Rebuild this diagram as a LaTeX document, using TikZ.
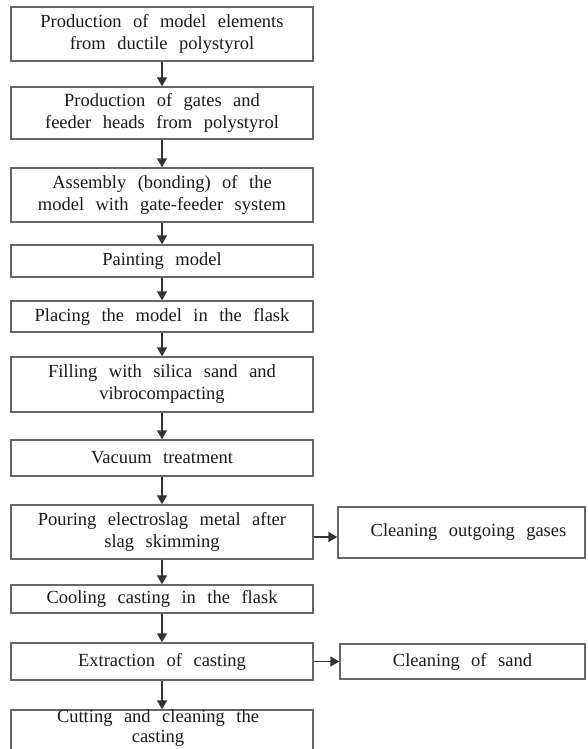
\documentclass[tikz,border=0pt]{standalone}
\usepackage{fontspec}
\setmainfont{Liberation Serif}
\usetikzlibrary{arrows.meta}
\definecolor{boxgray}{HTML}{666666}
\definecolor{arrgray}{HTML}{333333}
\definecolor{txt}{HTML}{1A1A1A}
\newcommand\myboxfont{\fontsize{18.5}{22}\selectfont\spaceskip=11.5pt\relax}
\newcommand\mylastfont{\fontsize{18.5}{20}\selectfont\spaceskip=11.5pt\relax}
\begin{document}
\begin{tikzpicture}[x=1pt,y=-1pt,
  lbl/.style={text=txt, align=center, inner sep=0pt, font=\myboxfont},
  box/.style={lbl, draw=boxgray, line width=1.4pt, fill=white, minimum width=302pt},
  sidebox/.style={lbl, draw=boxgray, line width=1.4pt, fill=white},
  arr/.style={draw=arrgray, line width=1.4pt, -{Triangle[width=10pt,length=9pt]}}]
\useasboundingbox (0,0) rectangle (587,749);
\clip (0,0) rectangle (587,749);
\fill[white] (0,0) rectangle (587,749);
\node[box, minimum height=54pt] (n1) at (162,34) {Production of model elements\\from ductile polystyrol};
\node[box, minimum height=52pt] (n2) at (162,113) {Production of gates and\\feeder heads from polystyrol};
\node[box, minimum height=54pt] (n3) at (162,195) {Assembly (bonding) of the\\model with gate-feeder system};
\node[box, minimum height=32pt] (n4) at (162,261) {Painting model};
\node[box, minimum height=31pt] (n5) at (162,316.5) {Placing the model in the flask};
\node[box, minimum height=55pt] (n6) at (162,384.5) {Filling with silica sand and\\vibrocompacting};
\node[box, minimum height=36pt] (n7) at (162,458) {Vacuum treatment};
\node[box, minimum height=54pt] (n8) at (162,532) {Pouring electroslag metal after\\slag skimming};
\node[box, minimum height=28pt] (n9) at (162,599) {Cooling casting in the flask};
\node[box, minimum height=37pt] (n10) at (162,661.5) {Extraction of casting};
\node[box, minimum height=70pt] (n11) at (162,745) {};
\node[lbl, font=\mylastfont] (t11) at (158,728) {Cutting and cleaning the\\casting};
\node[sidebox, minimum width=247pt, minimum height=51pt] (sA) at (461.5,532.5) {\hspace*{14pt}Cleaning outgoing gases};
\node[sidebox, minimum width=245pt, minimum height=35pt] (sB) at (462.5,661.5) {Cleaning of sand};
\draw[arr] (n1.south) -- (n2.north);
\draw[arr] (n2.south) -- (n3.north);
\draw[arr] (n3.south) -- (n4.north);
\draw[arr] (n4.south) -- (n5.north);
\draw[arr] (n5.south) -- (n6.north);
\draw[arr] (n6.south) -- (n7.north);
\draw[arr] (n7.south) -- (n8.north);
\draw[arr] (n8.south) -- (n9.north);
\draw[arr] (n9.south) -- (n10.north);
\draw[arr] (n10.south) -- (n11.north);
\draw[arr] ([yshift=-5pt]n8.east) -- ([yshift=-4.5pt]sA.west);
\draw[arr] (n10.east) -- (sB.west);
\end{tikzpicture}
\end{document}
